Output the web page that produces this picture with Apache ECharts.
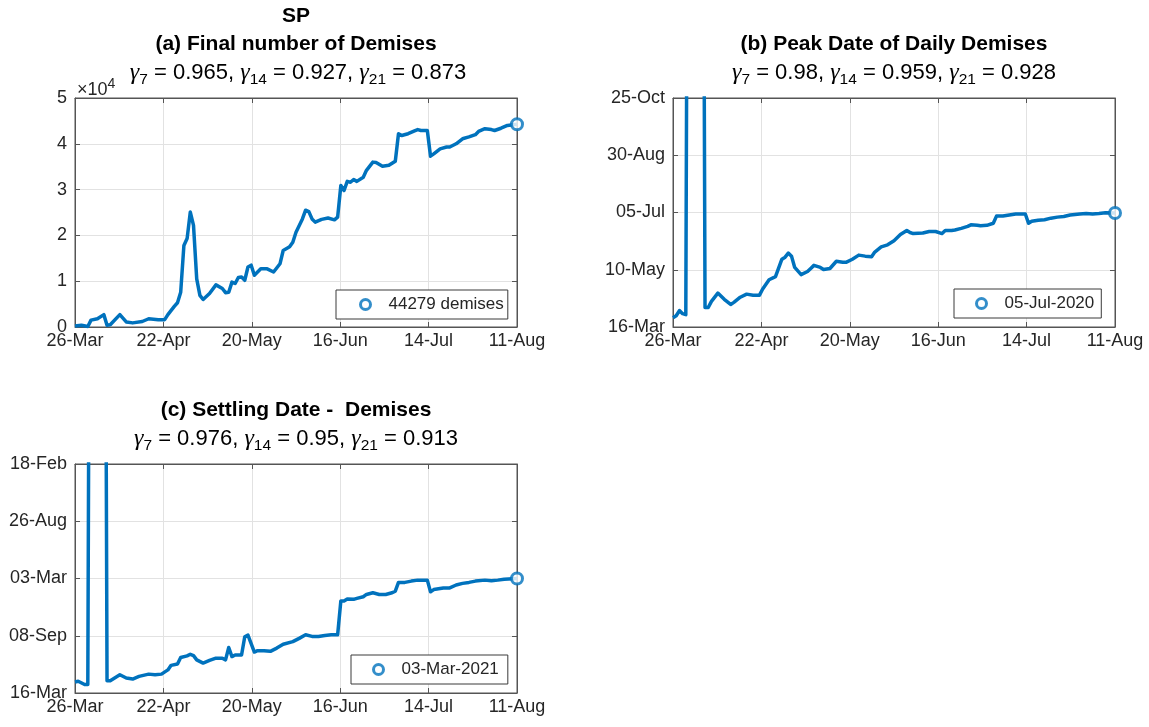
<!DOCTYPE html>
<html>
<head>
<meta charset="utf-8">
<script src="https://cdn.jsdelivr.net/npm/echarts@6/dist/echarts.min.js"></script>
<style>
  html, body { margin: 0; padding: 0; background: #fff; }
  #chart { width: 1149px; height: 727px; }
</style>
</head>
<body>
<div id="chart"></div>
<script>
// x values: days counted from 26-Mar-2020
// (a) final number of demises forecast on each day
const finalDays = [0,2,4,5,7,9,10,11,14,16,18,21,23,26,28,29,31,32,33,34,35,36,37,38,39,40,42,44,46,47,48,49,50,51,52,53,54,55,56,58,60,62,64,65,67,68,69,71,72,73,74,75,77,79,81,82,83,84,85,86,87,88,90,91,93,94,96,98,100,101,102,104,106,107,108,110,111,112,114,116,117,119,121,123,125,126,128,130,131,133,135,138];
const finalDemises = [200,400,100,1500,1800,2700,400,500,2700,1100,900,1200,1800,1600,1600,2700,4500,5300,7600,17800,19300,25100,22200,10500,6900,6000,7300,9200,8400,7500,7600,9800,9500,10800,10900,10200,13100,13500,11300,12700,12700,12000,13800,16700,17500,18500,20700,23600,25500,25200,23600,22900,23500,23800,23400,24000,30900,29800,31800,31600,32200,31800,32700,34200,36000,35900,35100,35300,36200,42200,41800,42200,42800,43100,42900,42900,37300,37800,38900,39300,39300,40000,41100,41500,42000,42700,43300,43100,42900,43400,44000,44279];

// (b) forecast peak date of daily demises, in days after 16-Mar-2020
const peakDays = [0,1,2,3,4,5,9,10,11,12,14,16,18,19,21,23,25,27,28,30,32,34,35,36,37,38,40,42,43,44,46,47,49,51,53,54,56,58,60,62,63,65,67,69,71,73,74,75,78,80,82,84,85,87,88,90,92,93,95,96,98,100,101,103,105,107,110,111,112,114,116,118,120,122,124,127,129,131,133,135,138];
const peakDate = [9,11,16,13,12,900,900,19,19,25,33,27,22,24,29,32,31,31,37,46,49,66,68,72,69,58,51,54,57,60,58,56,57,64,63,63,66,70,69,68.5,73,78,80,84,90,94,92,91,91.5,93,93,91,94,94,94.5,96,98,99.5,99,98.5,99,101,108,108,109,110,110,101,103,104,104.5,106,107,107.6,109,110,110.5,110,110.5,111.2,111];

// (c) forecast settling date of demises, in days after 16-Mar-2020
const settleDays = [0,1,3,4,5,9,10,11,14,16,18,20,23,25,27,29,30,32,33,35,36,37,38,40,42,44,46,47,48,49,50,52,53,54,56,57,59,61,63,65,68,70,72,74,76,78,80,82,83,84,85,87,88,90,91,93,95,97,99,100,101,103,105,107,110,111,112,115,117,119,121,123,125,128,130,132,134,138];
const settleDate = [34,36,26,26,2800,2800,38,38,56,46,43,51,58,56,58,71,85,89,109,114,119,115,102,92,100,107,107,102,140,112,117,117,173,178,126,130,130,128,138,150,158,168,179,174,174,177,179,179,283,283,289,288,291,296,303,308,303,303,308,313,340,340,344,347,347,311,318,323,323,332,337,340,344,347,345,347,350,352];

// latest forecasts (last day) shown with a circle marker
const lastDay = 138;
const finalLatest = 44279;
const peakLatest = 111;
const settleLatest = 352;
const legendLabels = ['44279 demises', '05-Jul-2020', '03-Mar-2021'];

// tick labels
const xTickLabels = ['26-Mar', '22-Apr', '20-May', '16-Jun', '14-Jul', '11-Aug'];
const finalTickLabels = ['0', '1', '2', '3', '4', '5'];
const peakTickLabels = ['16-Mar', '10-May', '05-Jul', '30-Aug', '25-Oct'];
const settleTickLabels = ['16-Mar', '08-Sep', '03-Mar', '26-Aug', '18-Feb'];

const xStep = 27.6, finalStep = 10000, peakStep = 55.75, settleStep = 176;

const BLUE = '#0072BD';
const AX = '#555555';
const TXT = '#262626';
const GRIDC = '#e2e2e2';
const FONT = '"Liberation Sans", Arial, Helvetica, sans-serif';

function pairs(xs, ys) { return xs.map((x, i) => [x, ys[i]]); }

const grids = [
  { left: 75, top: 98, width: 442, height: 229 },
  { left: 673, top: 98, width: 442, height: 229 },
  { left: 75, top: 464, width: 442, height: 229 }
].map(g => Object.assign(g, { show: true, borderColor: AX, borderWidth: 1, backgroundColor: '#fff' }));

function tick() { return { show: true, inside: true, length: 5, lineStyle: { color: AX, width: 1 } }; }
function axLine() { return { show: true, onZero: false, lineStyle: { color: AX, width: 1 } }; }
function labelStyle(extra) { return Object.assign({ color: TXT, fontSize: 18, fontFamily: FONT }, extra); }

const xAxes = [], yAxes = [];
const yDefs = [
  { max: 5 * finalStep, step: finalStep, labels: finalTickLabels },
  { max: 4 * peakStep, step: peakStep, labels: peakTickLabels },
  { max: 4 * settleStep, step: settleStep, labels: settleTickLabels }
];
for (let g = 0; g < 3; g++) {
  xAxes.push({
    type: 'value', gridIndex: g, position: 'bottom', min: 0, max: lastDay, interval: xStep,
    axisLine: axLine(), axisTick: tick(),
    axisLabel: labelStyle({ margin: 5, formatter: v => xTickLabels[Math.round(v / xStep)] }),
    splitLine: { show: true, lineStyle: { color: GRIDC, width: 1 } }
  });
  xAxes.push({
    type: 'value', gridIndex: g, position: 'top', min: 0, max: lastDay, interval: xStep,
    axisLine: axLine(), axisTick: tick(), axisLabel: { show: false }, splitLine: { show: false }
  });
  const d = yDefs[g];
  yAxes.push({
    type: 'value', gridIndex: g, position: 'left', min: 0, max: d.max, interval: d.step,
    axisLine: axLine(), axisTick: tick(),
    axisLabel: labelStyle({ margin: 8, formatter: v => d.labels[Math.round(v / d.step)] }),
    splitLine: { show: true, lineStyle: { color: GRIDC, width: 1 } }
  });
  yAxes.push({
    type: 'value', gridIndex: g, position: 'right', min: 0, max: d.max, interval: d.step,
    axisLine: axLine(), axisTick: tick(), axisLabel: { show: false }, splitLine: { show: false }
  });
}

const lines = [pairs(finalDays, finalDemises), pairs(peakDays, peakDate), pairs(settleDays, settleDate)];
const latest = [finalLatest, peakLatest, settleLatest];

const series = [];
for (let g = 0; g < 3; g++) {
  series.push({
    type: 'line', xAxisIndex: 2 * g, yAxisIndex: 2 * g, data: lines[g],
    showSymbol: false, symbol: 'none', clip: true, animation: false,
    lineStyle: { color: BLUE, width: 3.5, join: 'round' }, z: 2
  });
  series.push({
    type: 'scatter', name: legendLabels[g], xAxisIndex: 2 * g, yAxisIndex: 2 * g,
    data: [[lastDay, latest[g]]], symbol: 'circle', symbolSize: 11, clip: false, animation: false,
    itemStyle: { color: '#fff', borderColor: BLUE, borderWidth: 3 }, z: 3
  });
}

const legendBase = {
  orient: 'horizontal', icon: 'circle', itemWidth: 36, itemHeight: 10, itemGap: 0,
  backgroundColor: '#fff', borderColor: '#3a3a3a', borderWidth: 1, borderRadius: 0,
  itemStyle: { color: '#fff', borderColor: BLUE, borderWidth: 3 },
  textStyle: { color: TXT, fontSize: 17, fontFamily: FONT }, selectedMode: false
};
const legends = [
  Object.assign({}, legendBase, { left: 336, top: 290, padding: [6, 4, 6, 23], data: [legendLabels[0]] }),
  Object.assign({}, legendBase, { left: 954, top: 289, padding: [6, 7, 6, 21], data: [legendLabels[1]] }),
  Object.assign({}, legendBase, { left: 351, top: 655, padding: [6, 9, 6, 21], data: [legendLabels[2]] })
];

// titles and gamma annotations
const titleStyle = { fill: '#000', fontSize: 21, fontWeight: 'bold', fontFamily: FONT, align: 'center', verticalAlign: 'middle' };
function gammaText(a, b, c) {
  return '{g|γ}{s|7}{t| = ' + a + ', }{g|γ}{s|14}{t| = ' + b + ', }{g|γ}{s|21}{t| = ' + c + '}';
}
const gammaRich = {
  t: { fontSize: 22, fontFamily: FONT, lineHeight: 30, fill: '#000', color: '#000' },
  g: { fontSize: 24, fontFamily: '"Liberation Serif", "DejaVu Serif", serif', fontStyle: 'italic', lineHeight: 30, fill: '#000', color: '#000' },
  s: { fontSize: 15.5, fontFamily: FONT, lineHeight: 15, verticalAlign: 'bottom', fill: '#000', color: '#000' }
};
function textEl(x, y, style) { return { type: 'text', x: x, y: y, z: 10, style: style }; }
function gammaEl(x, y, a, b, c) {
  return textEl(x, y, { text: gammaText(a, b, c), rich: gammaRich, align: 'center', verticalAlign: 'middle', fontSize: 22, fontFamily: FONT, fill: '#000' });
}

const graphics = [
  textEl(296, 16, Object.assign({ text: 'SP' }, titleStyle)),
  textEl(296, 44, Object.assign({ text: '(a) Final number of Demises' }, titleStyle)),
  gammaEl(298, 73, '0.965', '0.927', '0.873'),
  textEl(77, 88, {
    text: '{m|×10}{p|4}', align: 'left', verticalAlign: 'middle',
    rich: {
      m: { fontSize: 18, fontFamily: FONT, fill: TXT, color: TXT, lineHeight: 22, verticalAlign: 'bottom' },
      p: { fontSize: 14, fontFamily: FONT, fill: TXT, color: TXT, lineHeight: 13, verticalAlign: 'top' }
    }
  }),
  textEl(894, 44, Object.assign({ text: '(b) Peak Date of Daily Demises' }, titleStyle)),
  gammaEl(894, 73, '0.98', '0.959', '0.928'),
  textEl(296, 410, Object.assign({ text: '(c) Settling Date -  Demises' }, titleStyle)),
  gammaEl(296, 439, '0.976', '0.95', '0.913')
];

const chart = echarts.init(document.getElementById('chart'), null, { renderer: 'canvas' });
chart.setOption({
  backgroundColor: '#fff',
  animation: false,
  grid: grids,
  xAxis: xAxes,
  yAxis: yAxes,
  legend: legends,
  series: series,
  graphic: graphics
});
</script>
</body>
</html>
